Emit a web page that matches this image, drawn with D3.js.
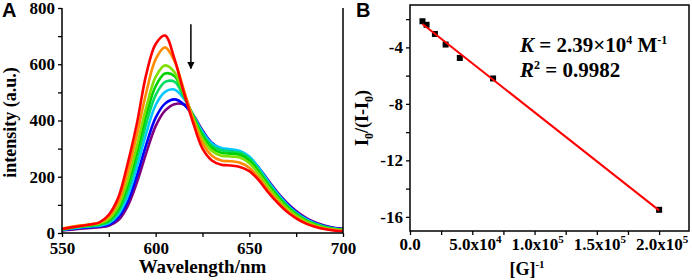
<!DOCTYPE html>
<html>
<head>
<meta charset="utf-8">
<script src="https://cdn.jsdelivr.net/npm/d3@7"></script>
<style>
  body { margin: 0; background: #fff; }
  svg { display: block; }
  text { font-family: "Liberation Serif", "Times New Roman", serif; font-weight: bold; fill: #000; }
  .panel-label { font-family: "Liberation Sans", Arial, sans-serif; }
</style>
</head>
<body>
<svg id="drawing_region"></svg>
<script>
// ---- panel A : emission spectra ----
const wavelengths = [550, 555, 560, 565, 570, 575, 580, 585, 590, 595, 600, 605, 610, 615, 620, 625,
                     630, 635, 640, 645, 650, 655, 660, 665, 670, 675, 680, 685, 690, 695, 700];

const spectrum_1 = [14, 20, 25, 30, 38, 65, 125, 245, 390, 565, 672, 702, 620, 500, 392, 300,
                    258, 243, 240, 235, 220, 188, 145, 108, 76, 52, 34, 22, 14, 9, 6];
const spectrum_2 = [16, 22, 27, 31, 37, 58, 110, 215, 350, 500, 618, 660, 612, 510, 405, 320,
                    275, 258, 255, 250, 232, 196, 152, 113, 80, 55, 36, 24, 16, 11, 8];
const spectrum_3 = [14, 20, 25, 29, 34, 50, 95, 185, 310, 448, 555, 596, 572, 495, 410, 335,
                    292, 275, 272, 268, 248, 210, 165, 124, 89, 62, 42, 28, 19, 13, 10];
const spectrum_4 = [13, 19, 24, 27, 32, 45, 85, 170, 290, 420, 522, 567, 558, 492, 415, 345,
                    302, 285, 282, 278, 258, 218, 172, 130, 94, 66, 45, 30, 20, 14, 11];
const spectrum_5 = [12, 18, 22, 25, 29, 40, 75, 150, 265, 390, 490, 537, 538, 485, 418, 352,
                    310, 294, 290, 285, 265, 225, 178, 135, 98, 69, 47, 32, 22, 15, 12];
const spectrum_6 = [11, 16, 20, 23, 26, 35, 65, 130, 235, 355, 455, 502, 510, 478, 420, 360,
                    318, 302, 298, 292, 272, 232, 184, 140, 102, 72, 50, 34, 23, 16, 12];
const spectrum_7 = [10, 14, 18, 21, 24, 30, 55, 110, 205, 315, 410, 460, 475, 458, 415, 362,
                    320, 300, 292, 285, 268, 232, 186, 142, 105, 75, 52, 36, 25, 18, 14];
const spectrum_8 = [9, 12, 15, 18, 21, 26, 45, 95, 180, 285, 380, 435, 458, 457, 420, 365,
                    320, 298, 288, 280, 265, 232, 188, 145, 108, 78, 55, 38, 27, 19, 15];

const spectra = [spectrum_1, spectrum_2, spectrum_3, spectrum_4,
                 spectrum_5, spectrum_6, spectrum_7, spectrum_8];

const wl_ticks = [550, 600, 650, 700];
const int_ticks = [0, 200, 400, 600, 800];

// ---- panel B : double reciprocal plot ----
const inv_conc = [1.0e4, 1.33e4, 2.0e4, 2.86e4, 4.0e4, 6.67e4, 2.0e5];
const ratio = [-2.15, -2.4, -3.05, -3.8, -4.75, -6.2, -15.5];

const g_ticks = [0, 5e4, 1e5, 1.5e5, 2e5];
const g_tick_mantissa = ['0.0', '5.0', '1.0', '1.5', '2.0'];
const g_tick_exponent = ['', '4', '5', '5', '5'];
const ratio_ticks = [-4, -8, -12, -16];

const config = {
    width: 692,
    height: 280,
    serif: '"Liberation Serif", "Times New Roman", serif',
    colors: ['#ff0000', '#ff8c00', '#7fe000', '#00d400', '#00dc60', '#00c8ff', '#0000ff', '#800080']
};

const svg = d3.select('#drawing_region')
    .attr('width', config.width)
    .attr('height', config.height);

function styleAxis(g) {
    g.attr('font-family', null).attr('font-size', null);
    g.select('.domain').remove();
    g.selectAll('line').attr('stroke', '#000').attr('stroke-width', 1.3);
    g.selectAll('text')
        .style('font-family', config.serif)
        .style('font-weight', 'bold')
        .style('font-size', '17px');
}

// ================= panel A =================
const xA = d3.scaleLinear().domain([550, 700]).range([62, 343]);
const yA = d3.scaleLinear().domain([0, 800]).range([233, 8]);

const gA = svg.append('g');

gA.append('g')
    .attr('transform', `translate(0,${yA(0)})`)
    .call(d3.axisBottom(xA).tickValues(d3.range(550, 701, 25)).tickSize(4).tickPadding(5)
        .tickFormat(d => wl_ticks.includes(d) ? d : ''))
    .call(styleAxis);

gA.append('g')
    .attr('transform', `translate(${xA(550)},0)`)
    .call(d3.axisLeft(yA).tickValues(d3.range(0, 801, 100)).tickSize(4).tickPadding(3)
        .tickFormat(d => int_ticks.includes(d) ? d : ''))
    .call(styleAxis);

const line = d3.line()
    .x((d, i) => xA(wavelengths[i]))
    .y(d => yA(d))
    .curve(d3.curveCatmullRom.alpha(0.5));

gA.selectAll('.spectrum')
    .data(spectra.slice().reverse())
    .enter()
    .append('path')
    .attr('class', 'spectrum')
    .attr('d', line)
    .attr('fill', 'none')
    .attr('stroke', (d, i) => config.colors[spectra.length - 1 - i])
    .attr('stroke-width', 2.6);

// axis frame (left, bottom, right)
gA.append('path')
    .attr('d', `M${xA(550)},${yA(800)}V${yA(0)}H${xA(700)}V${yA(800)}`)
    .attr('fill', 'none')
    .attr('stroke', '#000')
    .attr('stroke-width', 1.5);

svg.append('defs').append('marker')
    .attr('id', 'arrow')
    .attr('viewBox', '0 0 10 10')
    .attr('refX', 9).attr('refY', 5)
    .attr('markerWidth', 5).attr('markerHeight', 7)
    .attr('orient', 'auto')
    .append('path')
    .attr('d', 'M0,0L10,5L0,10Z')
    .attr('fill', '#000');

gA.append('line')
    .attr('x1', xA(618.8)).attr('x2', xA(618.8))
    .attr('y1', yA(742)).attr('y2', yA(585))
    .attr('stroke', '#000')
    .attr('stroke-width', 1.5)
    .attr('marker-end', 'url(#arrow)');

gA.append('text')
    .attr('x', xA(625))
    .attr('y', 273)
    .attr('text-anchor', 'middle')
    .style('font-size', '19px')
    .text('Wavelength/nm');

gA.append('text')
    .attr('transform', `translate(16,${yA(400) + 2}) rotate(-90)`)
    .attr('text-anchor', 'middle')
    .style('font-size', '18px')
    .text('intensity (a.u.)');

svg.append('text')
    .attr('class', 'panel-label')
    .attr('x', 2).attr('y', 17)
    .style('font-size', '20px')
    .text('A');

// ================= panel B =================
const xB = d3.scaleLinear().domain([0, 2.24e5]).range([410, 689]);
const yB = d3.scaleLinear().domain([-17, -1]).range([231, 5]);

const gB = svg.append('g');

gB.append('g')
    .attr('transform', `translate(0,${yB(-17)})`)
    .call(d3.axisBottom(xB).tickValues(d3.range(0, 2.01e5, 2.5e4)).tickSize(4).tickPadding(6)
        .tickFormat(''))
    .call(styleAxis);

gB.selectAll('.gtick')
    .data(g_ticks)
    .enter()
    .append('text')
    .attr('class', 'gtick')
    .attr('x', d => xB(d) + (d === 0 ? 0 : 3))
    .attr('y', 250)
    .attr('text-anchor', 'middle')
    .style('font-size', '17px')
    .each(function (d, i) {
        const t = d3.select(this);
        if (g_tick_exponent[i] === '') {
            t.text(g_tick_mantissa[i]);
        } else {
            t.append('tspan').text(g_tick_mantissa[i] + 'x10');
            t.append('tspan').attr('dy', -7).style('font-size', '11px').text(g_tick_exponent[i]);
        }
    });

gB.append('g')
    .attr('transform', `translate(${xB(0)},0)`)
    .call(d3.axisLeft(yB).tickValues(d3.range(-16, -1, 2)).tickSize(4).tickPadding(3)
        .tickFormat(d => ratio_ticks.includes(d) ? d : ''))
    .call(styleAxis);

gB.append('rect')
    .attr('x', xB(0)).attr('y', yB(-1))
    .attr('width', xB(2.24e5) - xB(0))
    .attr('height', yB(-17) - yB(-1))
    .attr('fill', 'none')
    .attr('stroke', '#000')
    .attr('stroke-width', 1.5);

// least squares fit of the points
const mx = d3.mean(inv_conc), my = d3.mean(ratio);
const slope = d3.sum(inv_conc, (x, i) => (x - mx) * (ratio[i] - my)) /
              d3.sum(inv_conc, x => (x - mx) * (x - mx));
const intercept = my - slope * mx;
const fit_x = d3.extent(inv_conc);

gB.selectAll('.pt')
    .data(inv_conc)
    .enter()
    .append('rect')
    .attr('class', 'pt')
    .attr('x', (d) => xB(d) - 3)
    .attr('y', (d, i) => yB(ratio[i]) - 3)
    .attr('width', 6).attr('height', 6)
    .attr('fill', '#000');

gB.append('line')
    .attr('x1', xB(fit_x[0])).attr('y1', yB(intercept + slope * fit_x[0]))
    .attr('x2', xB(fit_x[1])).attr('y2', yB(intercept + slope * fit_x[1]))
    .attr('stroke', '#ff0000')
    .attr('stroke-width', 2);

const kText = gB.append('text').attr('x', 520).attr('y', 52).style('font-size', '21px');
kText.append('tspan').style('font-style', 'italic').text('K');
kText.append('tspan').text(' = 2.39×10');
kText.append('tspan').attr('dy', -8).style('font-size', '12px').text('4');
kText.append('tspan').attr('dy', 8).text(' M');
kText.append('tspan').attr('dy', -8).style('font-size', '12px').text('-1');

const rText = gB.append('text').attr('x', 520).attr('y', 77).style('font-size', '21px');
rText.append('tspan').style('font-style', 'italic').text('R');
rText.append('tspan').attr('dy', -8).style('font-size', '12px').text('2');
rText.append('tspan').attr('dy', 8).text(' = 0.9982');

const yLab = gB.append('text')
    .attr('transform', `translate(368,${yB(-9)}) rotate(-90)`)
    .attr('text-anchor', 'middle')
    .style('font-size', '18px');
yLab.append('tspan').text('I');
yLab.append('tspan').attr('dy', 5).style('font-size', '12px').text('0');
yLab.append('tspan').attr('dy', -5).text('/(I-I');
yLab.append('tspan').attr('dy', 5).style('font-size', '12px').text('0');
yLab.append('tspan').attr('dy', -5).text(')');

const xLab = gB.append('text')
    .attr('x', 527).attr('y', 275)
    .attr('text-anchor', 'middle')
    .style('font-size', '18px');
xLab.append('tspan').text('[G]');
xLab.append('tspan').attr('dy', -7).style('font-size', '11px').text('-1');

svg.append('text')
    .attr('class', 'panel-label')
    .attr('x', 356).attr('y', 17)
    .style('font-size', '20px')
    .text('B');
</script>
</body>
</html>
